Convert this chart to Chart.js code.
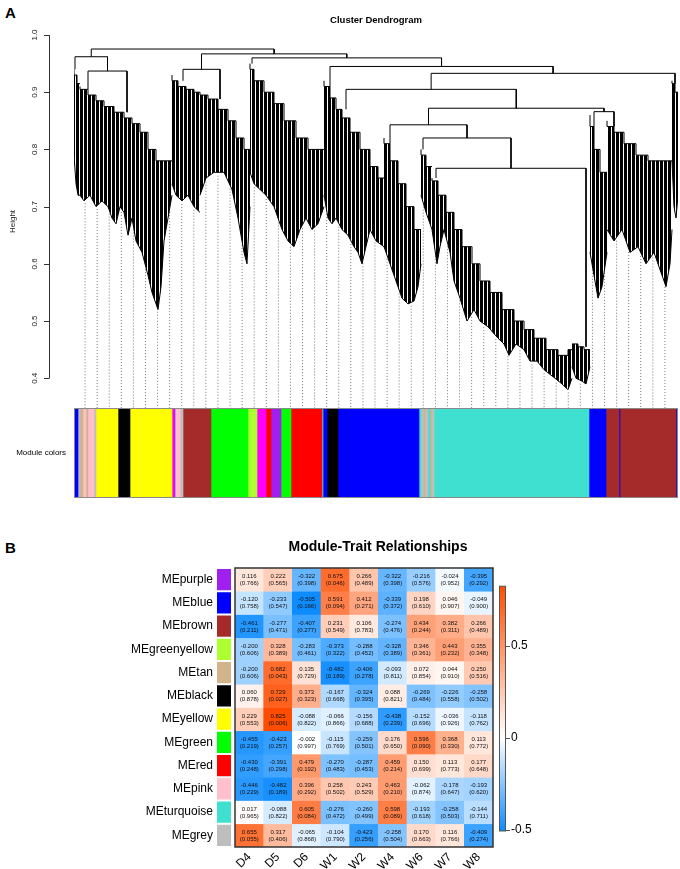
<!DOCTYPE html>
<html>
<head>
<meta charset="utf-8">
<script src="https://cdn.jsdelivr.net/npm/chart.js@4.4.1/dist/chart.umd.min.js"></script>
<style>
html, body { margin: 0; padding: 0; background: #fff; }
body { width: 680px; height: 869px; position: relative; overflow: hidden; font-family: "Liberation Sans", Arial, sans-serif; }
canvas { position: absolute; left: 0; }
.panel { position: absolute; font-weight: bold; font-size: 15px; color: #000; }
</style>
</head>
<body>
<div class="panel" style="left:5px;top:4px">A</div>
<div class="panel" style="left:5px;top:539px">B</div>
<canvas id="dendro" width="680" height="408" style="top:0"></canvas>
<canvas id="colors" width="680" height="90" style="top:408px"></canvas>
<canvas id="heat" width="680" height="344" style="top:525px"></canvas>
<script>
// ---- panel B: module-trait table ----
const traits = ['D4', 'D5', 'D6', 'W1', 'W2', 'W4', 'W6', 'W7', 'W8'];
const modules = ['MEpurple', 'MEblue', 'MEbrown', 'MEgreenyellow', 'MEtan', 'MEblack',
                 'MEyellow', 'MEgreen', 'MEred', 'MEpink', 'MEturquoise', 'MEgrey'];
const moduleColors = ['#A020F0', '#0000FF', '#A52A2A', '#ADFF2F', '#D2B48C', '#000000',
                      '#FFFF00', '#00FF00', '#FF0000', '#FFC0CB', '#40E0D0', '#BEBEBE'];
const moduleCor = [
    [0.116, 0.222, -0.322, 0.675, 0.266, -0.322, -0.216, -0.024, -0.395],
    [-0.120, -0.233, -0.505, 0.591, 0.412, -0.339, 0.198, 0.046, -0.049],
    [-0.461, -0.277, -0.407, 0.231, 0.106, -0.274, 0.434, 0.382, 0.266],
    [-0.200, 0.328, -0.283, -0.373, -0.288, -0.328, 0.346, 0.443, 0.355],
    [-0.200, 0.682, 0.135, -0.482, -0.406, -0.093, 0.072, 0.044, 0.250],
    [0.060, 0.729, 0.373, -0.167, -0.324, 0.088, -0.269, -0.226, -0.258],
    [0.229, 0.825, -0.088, -0.066, -0.156, -0.438, -0.152, -0.036, -0.118],
    [-0.455, -0.423, -0.002, -0.115, -0.259, 0.176, 0.596, 0.368, 0.113],
    [-0.430, -0.391, 0.479, -0.270, -0.287, 0.459, 0.150, 0.113, 0.177],
    [-0.446, -0.482, 0.396, 0.258, 0.243, 0.463, -0.062, -0.178, -0.193],
    [0.017, -0.088, 0.605, -0.276, -0.260, 0.598, -0.193, -0.258, -0.144],
    [0.655, 0.317, -0.065, -0.104, -0.423, -0.258, 0.170, 0.116, -0.409]
];
const modulePval = [
    [0.766, 0.565, 0.398, 0.046, 0.489, 0.398, 0.576, 0.952, 0.292],
    [0.758, 0.547, 0.166, 0.094, 0.271, 0.372, 0.610, 0.907, 0.900],
    [0.211, 0.471, 0.277, 0.549, 0.783, 0.476, 0.244, 0.311, 0.489],
    [0.606, 0.389, 0.461, 0.322, 0.452, 0.389, 0.361, 0.232, 0.348],
    [0.606, 0.043, 0.729, 0.189, 0.278, 0.811, 0.854, 0.910, 0.516],
    [0.878, 0.027, 0.323, 0.668, 0.395, 0.821, 0.484, 0.558, 0.502],
    [0.553, 0.006, 0.822, 0.866, 0.688, 0.239, 0.696, 0.926, 0.762],
    [0.219, 0.257, 0.997, 0.769, 0.501, 0.650, 0.090, 0.330, 0.772],
    [0.248, 0.298, 0.192, 0.483, 0.453, 0.214, 0.699, 0.773, 0.648],
    [0.229, 0.189, 0.292, 0.502, 0.529, 0.210, 0.874, 0.647, 0.620],
    [0.965, 0.822, 0.084, 0.472, 0.499, 0.089, 0.618, 0.503, 0.711],
    [0.055, 0.406, 0.868, 0.790, 0.256, 0.504, 0.663, 0.766, 0.274]
];
const cbTicks = [-0.5, 0, 0.5];

// ---- panel A: module colour strip, in gene order ----
const segColors = ['#0000FF', '#BEBEBE', '#D2B48C', '#FFC0CB', '#D2B48C', '#FFC0CB', '#BEBEBE',
    '#FFFF00', '#000000', '#FFFF00', '#FF00FF', '#A020F0', '#FFC0CB', '#BEBEBE', '#A52A2A',
    '#00FF00', '#ADFF2F', '#FF00FF', '#FF0000', '#A020F0', '#00FF00', '#FF0000', '#40E0D0',
    '#0000FF', '#000000', '#0000FF', '#40E0D0', '#BEBEBE', '#D2B48C', '#BEBEBE', '#40E0D0',
    '#D2B48C', '#BEBEBE', '#40E0D0', '#0000FF', '#A52A2A', '#0000FF', '#A52A2A', '#0000FF'];
const segWidths = [4, 2, 3, 3, 2, 6, 2,
    22, 12, 42, 2, 1, 5, 3, 28,
    37, 9, 9, 5, 10, 10, 31, 1,
    4, 11, 81, 2, 2, 2, 3, 2,
    2, 2, 155, 17, 13, 1, 56, 2];

// ---- panel A: dendrogram, dense branches as outlines (gene order, height) ----
const bushNames = ['R1a', 'R1b1', 'R1b2', 'R2a', 'R2b', 'R3', 'R4a', 'R4b', 'R4c', 'R5', 'R6a', 'R6b', 'R7', 'R8', 'R9'];
const bushAttach = [1, 14, 53, 109, 146, 178, 256, 272, 316, 349, 362, 512, 520, 540, 601];
const bushTops = [
    [[0, 0.94], [3, 0.93], [6, 0.915]],
    [[6, 0.91], [14, 0.905], [22, 0.895], [30, 0.885], [40, 0.875], [50, 0.865]],
    [[50, 0.865], [58, 0.855], [66, 0.845], [74, 0.83], [82, 0.80], [90, 0.78], [98, 0.78]],
    [[98, 0.93], [104, 0.92], [112, 0.91], [120, 0.905], [126, 0.90]],
    [[126, 0.90], [134, 0.895], [144, 0.888], [154, 0.87], [162, 0.85], [170, 0.82], [176, 0.80]],
    [[176, 0.95], [180, 0.94], [190, 0.92], [200, 0.90], [210, 0.88], [222, 0.85], [234, 0.82], [244, 0.80], [250, 0.80]],
    [[250, 0.92], [256, 0.91], [262, 0.89], [268, 0.87]],
    [[268, 0.87], [276, 0.855], [286, 0.83], [296, 0.80], [304, 0.77], [310, 0.75]],
    [[310, 0.82], [316, 0.81], [324, 0.78], [332, 0.74], [340, 0.70], [347, 0.66]],
    [[347, 0.80], [352, 0.79], [358, 0.77]],
    [[358, 0.75], [364, 0.745], [372, 0.72], [380, 0.69], [388, 0.66], [398, 0.63], [406, 0.60], [416, 0.57],
     [428, 0.55], [440, 0.52], [450, 0.50], [460, 0.485], [472, 0.47], [484, 0.45], [494, 0.44], [498, 0.45]],
    [[498, 0.46], [504, 0.46], [510, 0.455], [516, 0.45]],
    [[516, 0.86], [520, 0.84], [526, 0.80], [533, 0.76]],
    [[533, 0.85], [540, 0.84], [550, 0.83], [562, 0.81], [574, 0.79], [586, 0.78], [598, 0.78]],
    [[598, 0.92], [601, 0.915], [604, 0.90]]
];
const bushBottoms = [
    [[0, 0.79], [2, 0.74], [4, 0.72], [6, 0.72]],
    [[6, 0.72], [10, 0.71], [16, 0.72], [22, 0.70], [28, 0.71], [34, 0.70], [38, 0.68], [42, 0.67], [46, 0.70], [50, 0.69]],
    [[50, 0.69], [54, 0.65], [58, 0.68], [62, 0.64], [68, 0.62], [74, 0.58], [78, 0.55], [82, 0.53], [84, 0.52],
     [87, 0.56], [90, 0.64], [94, 0.68], [98, 0.72]],
    [[98, 0.74], [102, 0.72], [108, 0.71], [114, 0.72], [120, 0.70], [126, 0.69]],
    [[126, 0.72], [132, 0.75], [140, 0.76], [150, 0.76], [158, 0.73], [164, 0.68], [170, 0.62], [173, 0.60], [176, 0.70]],
    [[176, 0.76], [180, 0.74], [186, 0.73], [192, 0.72], [200, 0.70], [208, 0.66], [214, 0.64], [220, 0.63],
     [226, 0.66], [232, 0.68], [238, 0.66], [244, 0.67], [250, 0.70]],
    [[250, 0.72], [254, 0.68], [258, 0.67], [262, 0.68], [268, 0.66]],
    [[268, 0.66], [274, 0.65], [280, 0.63], [284, 0.62], [288, 0.60], [292, 0.63], [296, 0.66], [302, 0.64], [310, 0.63]],
    [[310, 0.63], [316, 0.60], [322, 0.57], [328, 0.54], [334, 0.53], [340, 0.535], [344, 0.56], [347, 0.60]],
    [[347, 0.72], [352, 0.69], [358, 0.66]],
    [[358, 0.66], [363, 0.60], [366, 0.63], [370, 0.66], [376, 0.62], [380, 0.57], [386, 0.54], [393, 0.50],
     [400, 0.52], [406, 0.50], [414, 0.49], [424, 0.47], [430, 0.46], [435, 0.44], [442, 0.46], [450, 0.45],
     [456, 0.43], [463, 0.43], [470, 0.415], [481, 0.40], [488, 0.39], [494, 0.38], [498, 0.40]],
    [[498, 0.42], [502, 0.40], [508, 0.395], [512, 0.39], [516, 0.42]],
    [[516, 0.62], [520, 0.58], [524, 0.54], [528, 0.56], [533, 0.62]],
    [[533, 0.66], [540, 0.64], [548, 0.66], [556, 0.62], [564, 0.63], [572, 0.60], [580, 0.62], [588, 0.58],
     [592, 0.56], [596, 0.60], [598, 0.66]],
    [[598, 0.78], [600, 0.70], [602, 0.68], [604, 0.72]]
];
// merges between branches: [height, left, right]
const mergeTree = [0.9755,
    [0.962, 'R1a', [0.937, 'R1b1', 'R1b2']],
    [0.967,
        [0.94, 'R2a', 'R2b'],
        [0.96, 'R3',
            [0.945, 'R4a',
                [0.933,
                    [0.905, 'R4b',
                        [0.872,
                            [0.843, 'R4c', [0.82, 'R5', [0.767, 'R6a', 'R6b']]],
                            [0.866, 'R7', 'R8']]],
                    'R9']]]]];
const heightTicks = [0.4, 0.5, 0.6, 0.7, 0.8, 0.9, 1.0];

const FONT = '"Liberation Sans", Arial, sans-serif';
const geneTotal = segWidths.reduce((a, b) => a + b, 0);
const hMin = 0.348;
const guideCount = 49;

// 선형 보간
function interp(pts, x) {
    if (x <= pts[0][0]) return pts[0][1];
    for (let i = 1; i < pts.length; i++) {
        if (x <= pts[i][0]) {
            const [x0, y0] = pts[i - 1], [x1, y1] = pts[i];
            return y0 + (y1 - y0) * (x - x0) / (x1 - x0);
        }
    }
    return pts[pts.length - 1][1];
}

// 계단형 상단 (stepped: 'after' 와 동일하게)
function stepAt(pts, x) {
    let v = pts[0][1];
    for (let i = 0; i < pts.length; i++) {
        if (x >= pts[i][0]) v = pts[i][1];
    }
    return v;
}

function bushAt(x) {
    for (let i = 0; i < bushBottoms.length; i++) {
        const b = bushBottoms[i];
        if (x >= b[0][0] && x <= b[b.length - 1][0]) return i;
    }
    return bushBottoms.length - 1;
}

// 축 여백 제거 (눈금 padding 이 차트 영역을 줄이지 않도록)
function noPad(width) {
    return s => {
        s.width = width;
        s.paddingTop = 0;
        s.paddingBottom = 0;
    };
}

// 덴드로그램 연결선
const treeLines = [];
function layoutNode(node) {
    if (typeof node === 'string') {
        const i = bushNames.indexOf(node);
        const x = bushAttach[i];
        return { x: x, h: stepAt(bushTops[i], x) };
    }
    const [h, a, b] = node;
    const L = layoutNode(a), R = layoutNode(b);
    treeLines.push({ x: L.x, y: L.h }, { x: L.x, y: h }, { x: R.x, y: h }, { x: R.x, y: R.h }, { x: R.x, y: null });
    return { x: (L.x + R.x) / 2, h: h };
}
layoutNode(mergeTree);

// 가이드 점선
const guideLines = [];
for (let k = 0; k < guideCount; k++) {
    const x = (k + 1) * geneTotal / (guideCount + 1) - 1;
    const top = interp(bushBottoms[bushAt(x)], x) - 0.006;
    guideLines.push({ x: x, y: top }, { x: x, y: hMin }, { x: x, y: null });
}

// 빽빽한 가지 채우기 패턴
const pc = document.createElement('canvas');
pc.width = 4; pc.height = 1;
const pctx = pc.getContext('2d');
pctx.fillStyle = '#000';
pctx.fillRect(0, 0, 3, 1);
const bushPattern = document.getElementById('dendro').getContext('2d').createPattern(pc, 'repeat');

const dendroSets = [{
    data: treeLines, borderColor: '#000', borderWidth: 1, pointRadius: 0, fill: false, spanGaps: false
}];
bushNames.forEach((name, i) => {
    dendroSets.push({
        data: bushTops[i].map(([x, y]) => ({ x, y })),
        borderColor: '#000', borderWidth: 1, pointRadius: 0, fill: false, stepped: 'after'
    });
    dendroSets.push({
        data: bushBottoms[i].map(([x, y]) => ({ x, y })),
        borderColor: '#000', borderWidth: 1, pointRadius: 0,
        fill: '-1', backgroundColor: bushPattern
    });
});
dendroSets.push({
    data: guideLines, borderColor: '#777', borderWidth: 1, borderDash: [1, 2],
    pointRadius: 0, fill: false, spanGaps: false
});

const heightAxis = {
    id: 'heightAxis',
    afterDraw(chart) {
        const ys = chart.scales.y, ctx = chart.ctx;
        ctx.save();
        ctx.strokeStyle = '#333';
        ctx.lineWidth = 1;
        ctx.beginPath();
        ctx.moveTo(49.5, ys.getPixelForValue(1.0));
        ctx.lineTo(49.5, ys.getPixelForValue(0.4));
        heightTicks.forEach(v => {
            const p = Math.round(ys.getPixelForValue(v)) + 0.5;
            ctx.moveTo(44, p);
            ctx.lineTo(49.5, p);
        });
        ctx.stroke();
        ctx.restore();
    }
};

new Chart(document.getElementById('dendro'), {
    type: 'line',
    data: { datasets: dendroSets },
    options: {
        responsive: false,
        animation: false,
        events: [],
        layout: { padding: { left: 0, right: 2, top: 0, bottom: 0 } },
        plugins: {
            legend: { display: false },
            tooltip: { enabled: false },
            title: {
                display: true, text: 'Cluster Dendrogram', fullSize: false, color: '#000',
                font: { family: FONT, size: 9.5, weight: 'bold' },
                padding: { top: 14.5, bottom: 9.1 }
            }
        },
        scales: {
            x: { type: 'linear', min: 0, max: geneTotal, display: false },
            y: {
                type: 'linear', min: hMin, max: 1.0,
                afterBuildTicks: s => { s.ticks = heightTicks.map(v => ({ value: v })); },
                afterFit: noPad(74),
                grid: { display: false, drawTicks: false },
                border: { display: false },
                ticks: {
                    font: { family: FONT, size: 8 }, color: '#222',
                    minRotation: 90, maxRotation: 90, crossAlign: 'center', padding: 34,
                    callback: v => v.toFixed(1)
                },
                title: {
                    display: true, text: 'Height', color: '#222',
                    font: { family: FONT, size: 8 }, padding: { top: 8, bottom: 0 }
                }
            }
        }
    },
    plugins: [heightAxis]
});

// 모듈 색상 띠
const stripOutline = {
    id: 'stripOutline',
    afterDraw(chart) {
        const a = chart.chartArea, ctx = chart.ctx;
        ctx.save();
        ctx.strokeStyle = '#8a8a8a';
        ctx.lineWidth = 1;
        ctx.strokeRect(a.left + 0.5, a.top + 0.5, a.right - a.left - 1, a.bottom - a.top - 1);
        ctx.restore();
    }
};

new Chart(document.getElementById('colors'), {
    type: 'bar',
    data: {
        labels: ['Module colors'],
        datasets: segColors.map((c, i) => ({
            data: [segWidths[i]], backgroundColor: c, borderWidth: 0,
            barPercentage: 1, categoryPercentage: 1
        }))
    },
    options: {
        indexAxis: 'y',
        responsive: false,
        animation: false,
        events: [],
        layout: { padding: { left: 0, right: 2, top: 0, bottom: 0 } },
        plugins: { legend: { display: false }, tooltip: { enabled: false } },
        scales: {
            x: { stacked: true, min: 0, max: geneTotal, display: false },
            y: {
                stacked: true,
                afterFit: noPad(74),
                grid: { display: false, drawTicks: false },
                border: { display: false },
                ticks: { font: { family: FONT, size: 8 }, color: '#000', padding: 8 }
            }
        }
    },
    plugins: [stripOutline]
});

// 상관계수 -> 색상 (파랑-흰색-빨강)
function corColor(v) {
    const lo = -0.505, hi = 0.825;
    const blue = [13, 140, 255], red = [255, 77, 0];
    const t = v < 0 ? Math.min(1, v / lo) : Math.min(1, v / hi);
    const end = v < 0 ? blue : red;
    const c = end.map(e => Math.round(255 + (e - 255) * t));
    return `rgb(${c[0]}, ${c[1]}, ${c[2]})`;
}

const heatDecor = {
    id: 'heatDecor',
    afterDatasetsDraw(chart) {
        const ctx = chart.ctx;
        ctx.save();
        ctx.fillStyle = '#111';
        ctx.font = '6px ' + FONT;
        ctx.textAlign = 'center';
        ctx.textBaseline = 'middle';
        chart.data.datasets.forEach((ds, i) => {
            chart.getDatasetMeta(i).data.forEach((bar, j) => {
                const cy = (bar.y + bar.base) / 2;
                ctx.fillText(moduleCor[i][j].toFixed(3), bar.x, cy - 3.2);
                ctx.fillText('(' + modulePval[i][j].toFixed(3) + ')', bar.x, cy + 3.8);
            });
        });
        ctx.restore();
    },
    afterDraw(chart) {
        const ctx = chart.ctx, a = chart.chartArea, ys = chart.scales.y, cb = chart.scales.cb;
        ctx.save();
        // 모듈 색상 칸
        modules.forEach((m, i) => {
            const y0 = ys.getPixelForValue(i), y1 = ys.getPixelForValue(i + 1);
            ctx.fillStyle = moduleColors[i];
            ctx.fillRect(217, y0 + 1, 14, y1 - y0 - 2);
        });
        // 테두리
        ctx.strokeStyle = '#333';
        ctx.lineWidth = 1.5;
        ctx.strokeRect(a.left, a.top, a.right - a.left, a.bottom - a.top);
        // 컬러바
        const top = cb.getPixelForValue(0.825), bot = cb.getPixelForValue(-0.505);
        const grad = ctx.createLinearGradient(0, bot, 0, top);
        [-0.505, -0.25, 0, 0.2, 0.4, 0.6, 0.825].forEach(v => {
            grad.addColorStop((v + 0.505) / 1.33, corColor(v));
        });
        ctx.fillStyle = grad;
        ctx.fillRect(499, top, 6, bot - top);
        ctx.strokeStyle = '#555';
        ctx.lineWidth = 1;
        ctx.strokeRect(499.5, top, 6, bot - top);
        ctx.beginPath();
        cbTicks.forEach(v => {
            const p = Math.round(cb.getPixelForValue(v)) + 0.5;
            ctx.moveTo(505.5, p);
            ctx.lineTo(510, p);
        });
        ctx.stroke();
        ctx.restore();
    }
};

new Chart(document.getElementById('heat'), {
    type: 'bar',
    data: {
        labels: traits,
        datasets: modules.map((m, i) => ({
            label: m,
            data: traits.map(() => 1),
            backgroundColor: moduleCor[i].map(corColor),
            borderWidth: 0, barPercentage: 1, categoryPercentage: 1
        }))
    },
    options: {
        responsive: false,
        animation: false,
        events: [],
        layout: { padding: { left: 76, right: 0, top: 0, bottom: 0 } },
        plugins: {
            legend: { display: false },
            tooltip: { enabled: false },
            title: {
                display: true, text: 'Module-Trait Relationships', color: '#000',
                font: { family: FONT, size: 14, weight: 'bold' },
                padding: { top: 13.6, bottom: 12.6 }
            }
        },
        scales: {
            x: {
                stacked: true,
                afterFit: s => { s.height = 22; },
                grid: { display: false, drawTicks: false },
                border: { display: false },
                ticks: { font: { family: FONT, size: 12 }, color: '#000', minRotation: 45, maxRotation: 45, padding: 3 }
            },
            y: {
                stacked: true, reverse: true, min: 0, max: modules.length,
                afterBuildTicks: s => { s.ticks = modules.map((m, i) => ({ value: i + 0.5 })); },
                afterFit: noPad(159),
                grid: { display: false, drawTicks: false },
                border: { display: false },
                ticks: { font: { family: FONT, size: 12 }, color: '#000', padding: 22, callback: (v, i) => modules[i] }
            },
            cb: {
                type: 'linear', position: 'right', min: -0.592, max: 0.924,
                afterBuildTicks: s => { s.ticks = cbTicks.map(v => ({ value: v })); },
                afterFit: noPad(187),
                grid: { display: false, drawTicks: false },
                border: { display: false },
                ticks: { font: { family: FONT, size: 12 }, color: '#000', padding: 18, callback: v => String(v) }
            }
        }
    },
    plugins: [heatDecor]
});
</script>
</body>
</html>
